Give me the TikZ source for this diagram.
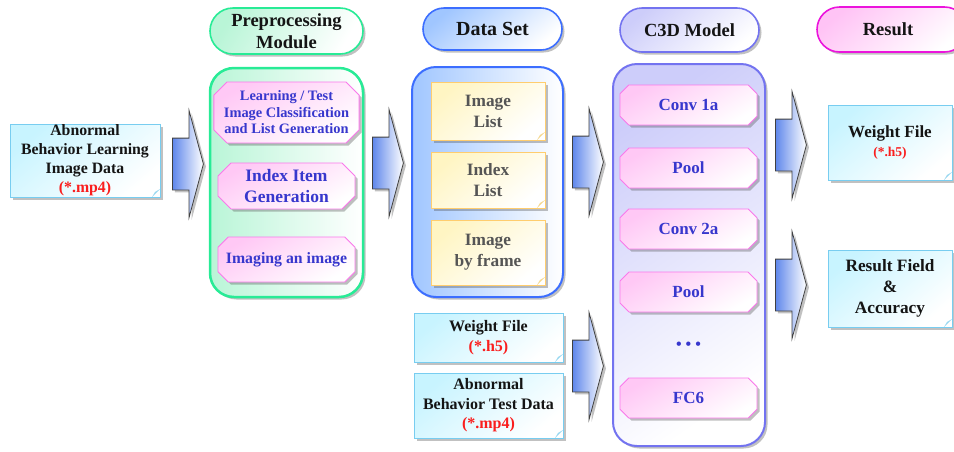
\documentclass[tikz,border=0pt]{standalone}
\usepackage{fontspec}
\setmainfont{Liberation Serif}
\usetikzlibrary{shapes.misc,shapes.arrows,shadows}

\definecolor{cyanB}{RGB}{120,205,240}
\definecolor{cyanF}{RGB}{200,244,255}
\definecolor{cyanFold}{RGB}{150,215,240}
\definecolor{greenB}{RGB}{40,235,150}
\definecolor{greenF}{RGB}{185,245,215}
\definecolor{pinkB}{RGB}{250,120,235}
\definecolor{pinkF}{RGB}{255,200,245}
\definecolor{txtBlue}{RGB}{55,55,205}
\definecolor{blueB}{RGB}{60,110,255}
\definecolor{blueF}{RGB}{160,198,255}
\definecolor{yelB}{RGB}{255,205,110}
\definecolor{yelF}{RGB}{255,245,195}
\definecolor{yelFold}{RGB}{245,215,140}
\definecolor{lavB}{RGB}{115,115,240}
\definecolor{lavF}{RGB}{205,205,250}
\definecolor{magB}{RGB}{235,20,220}
\definecolor{magF}{RGB}{255,195,245}
\definecolor{arrB}{RGB}{95,135,235}
\definecolor{redT}{RGB}{250,30,30}
\definecolor{grayT}{RGB}{85,85,85}
\definecolor{darkT}{RGB}{20,20,20}

\tikzset{
  shd/.style={drop shadow={shadow xshift=2.5pt, shadow yshift=-2.5pt, opacity=0.35, fill=black!70}},
  fs/.style 2 args={font=\fontsize{#1}{#2}\selectfont\bfseries},
  foldc/.style={path picture={
    \fill[white] ([xshift=-8pt]path picture bounding box.south east) -- (path picture bounding box.south east) -- ([yshift=8pt]path picture bounding box.south east) -- cycle;
    \fill[#1] ([xshift=-8pt]path picture bounding box.south east) -- ([yshift=8pt]path picture bounding box.south east) -- ([xshift=-5pt,yshift=5pt]path picture bounding box.south east) -- cycle;}},
  cnote/.style={rectangle, draw=cyanB, line width=0.9pt, shd, top color=cyanF, bottom color=white, shading angle=40,
    text=darkT, align=center, inner sep=0pt, foldc=cyanFold},
  ynote/.style={rectangle, draw=yelB, line width=0.9pt, shd, top color=yelF, bottom color=white, shading angle=40,
    text=grayT, align=center, inner sep=0pt, foldc=yelFold},
  octo/.style={chamfered rectangle, chamfered rectangle xsep=10pt, draw=pinkB, line width=0.9pt, shd,
    top color=pinkF, bottom color=white, shading angle=30, text=txtBlue, align=center, inner sep=0pt,
    minimum width=137pt},
  pill/.style={rounded rectangle, line width=1.6pt, shd, align=center, text=darkT, inner sep=0pt},
  cont/.style={rectangle, rounded corners=24pt, line width=2pt, shd, inner sep=0pt},
  barrow/.style={single arrow, draw=black!75, line width=0.8pt, left color=arrB, right color=white,
    text height=25.5pt, text depth=25.5pt, text width=0pt,
    minimum height=31pt, single arrow head extend=27.5pt, single arrow tip angle=150,
    inner sep=0pt, anchor=tail, shd}
}

\begin{document}
\begin{tikzpicture}[x=1pt,y=-1pt]
\useasboundingbox (0,0) rectangle (954,451);

% ---- input ----
\node[cnote, fs={15.8}{19}, minimum width=150pt, minimum height=73pt] (lbox) at (85,160.5)
  {Abnormal\\Behavior Learning\\Image Data\\\textcolor{redT}{(*.mp4)}};
\node[barrow] (a1) at (172,164) {};

% ---- preprocessing ----
\node[pill, draw=greenB, top color=greenF, bottom color=white, shading angle=60, fs={18.5}{22},
  minimum width=153pt, minimum height=46pt] (prehdr) at (286.5,31) {Preprocessing\\Module};
\node[cont, draw=greenB, line width=2.5pt, left color=greenF, right color=white,
  minimum width=153pt, minimum height=229pt] (precont) at (286.5,182.5) {};
\node[octo, fs={14.4}{16.5}, minimum height=61pt] (p1) at (286.5,112.5)
  {Learning / Test\\Image Classification\\and List Generation};
\node[octo, fs={17.5}{21}, minimum height=46pt] (p2) at (286.5,186) {Index Item\\Generation};
\node[octo, fs={15.8}{19}, minimum height=45pt] (p3) at (286.5,259.5) {Imaging an image};
\node[barrow] (a2) at (372,163) {};

% ---- data set ----
\node[pill, draw=blueB, top color=blueF, bottom color=white, shading angle=40, fs={20}{24},
  minimum width=139pt, minimum height=42pt] (dshdr) at (492.5,29) {Data Set};
\node[cont, draw=blueB, left color=blueF, right color=white,
  minimum width=151pt, minimum height=230pt] (dscont) at (487.5,182) {};
\node[ynote, fs={17.3}{21}, minimum width=114pt, minimum height=58pt] (y1) at (488,111) {Image\\List};
\node[ynote, fs={17.3}{21}, minimum width=114pt, minimum height=56pt] (y2) at (488,180) {Index\\List};
\node[ynote, fs={17.3}{21}, minimum width=114pt, minimum height=65pt] (y3) at (488,252.5) {Image\\by frame};
\node[barrow] (a3) at (572,162) {};

\node[cnote, fs={16}{20}, minimum width=149pt, minimum height=49pt] (wf1) at (488.5,337.5)
  {Weight File\\\textcolor{redT}{(*.h5)}};
\node[cnote, fs={16}{19.5}, minimum width=149pt, minimum height=65pt] (td) at (488.5,405.5)
  {Abnormal\\Behavior Test Data\\\textcolor{redT}{(*.mp4)}};
\node[barrow] (a4) at (572,366) {};

% ---- C3D model ----
\node[pill, draw=lavB, top color=lavF, bottom color=white, shading angle=40, fs={18.5}{22},
  minimum width=139pt, minimum height=44pt] (c3hdr) at (689.5,30) {C3D Model};
\node[cont, draw=lavB, top color=lavF, bottom color=white, shading angle=35,
  minimum width=152pt, minimum height=382pt] (c3cont) at (689,255) {};
\node[octo, fs={17}{20}, minimum height=40pt] (c1) at (688.5,105) {Conv 1a};
\node[octo, fs={17}{20}, minimum height=40pt] (c2) at (688.5,168) {Pool};
\node[octo, fs={17}{20}, minimum height=40pt] (c3) at (688.5,229) {Conv 2a};
\node[octo, fs={17}{20}, minimum height=40pt] (c4) at (688.5,292) {Pool};
\node[text=txtBlue, fs={16}{19}, inner sep=0pt] (dots) at (688.5,346) {\textbullet\hspace{4pt}\textbullet\hspace{4pt}\textbullet};
\node[octo, fs={17}{20}, minimum height=40pt] (c5) at (688.5,398) {FC6};

\node[barrow] (a5) at (775,145) {};
\node[barrow] (a6) at (775,285) {};

% ---- result ----
\node[pill, draw=magB, top color=magF, bottom color=white, shading angle=40, fs={18.5}{22},
  minimum width=150pt, minimum height=45pt] (reshdr) at (892,29.5) {\hspace{-8pt}Result};
\node[cnote, fs={17}{19}, minimum width=124pt, minimum height=75pt] (rw) at (890,142.5)
  {Weight File\\\fontsize{13.5}{16}\selectfont\textcolor{redT}{(*.h5)}};
\node[cnote, fs={17.3}{21}, minimum width=124pt, minimum height=77pt] (rr) at (890,288.5)
  {Result Field\\\&\\Accuracy};
\end{tikzpicture}
\end{document}
